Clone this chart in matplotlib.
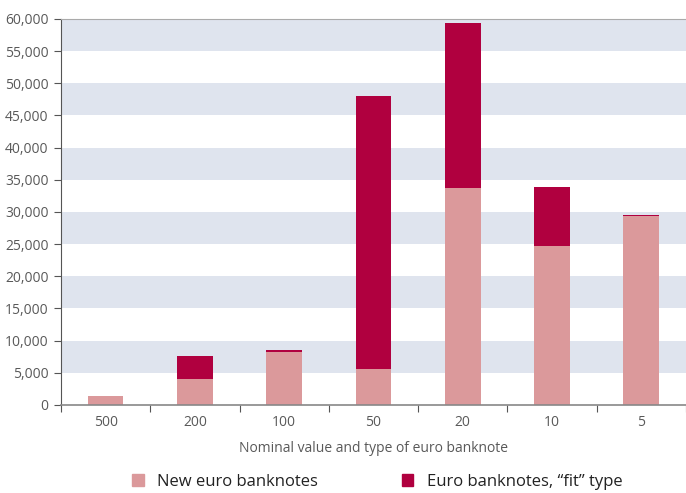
import matplotlib.pyplot as plt
from matplotlib.patches import Patch

plt.rcParams['font.family'] = ['Open Sans', 'DejaVu Sans']

# data
denominations = ['500', '200', '100', '50', '20', '10', '5']
new_notes = [1400, 4000, 8200, 5600, 33700, 24700, 29350]
fit_notes = [0, 3600, 300, 42400, 25700, 9200, 200]
yticks = list(range(0, 60001, 5000))

light = '#db999b'
dark = '#b0003f'
band = '#dfe4ee'
txt = '#595959'

fig = plt.figure(figsize=(6.86, 4.93), dpi=100)
ax = fig.add_axes([0.0889, 0.1785, 0.9111, 0.783])

# alternating horizontal bands
for lo in range(5000, 60000, 10000):
    ax.axhspan(lo, lo + 5000, color=band, lw=0, zorder=0)

x = range(len(denominations))
ax.bar(x, new_notes, width=0.4, color=light, zorder=2)
ax.bar(x, fit_notes, width=0.4, bottom=new_notes, color=dark, zorder=2)

ax.set_xlim(-0.5, len(denominations) - 0.5)
ax.set_ylim(0, 60000)
ax.set_yticks(yticks)
ax.set_yticklabels([f'{v:,}' for v in yticks], color=txt, fontsize=10)

# category labels centred, tick marks at boundaries
ax.set_xticks([i - 0.5 for i in range(len(denominations) + 1)])
ax.set_xticklabels([])
ax.set_xticks(list(x), minor=True)
ax.set_xticklabels(denominations, minor=True, color=txt, fontsize=10)
ax.tick_params(axis='x', which='minor', length=0, pad=7)
ax.tick_params(axis='x', which='major', length=5, color='#555555', direction='out')
ax.tick_params(axis='y', length=5, color='#555555', pad=4)

ax.spines['right'].set_visible(False)
ax.spines['top'].set_color('#aaaaaa')
ax.spines['top'].set_linewidth(0.8)
ax.spines['left'].set_color('#555555')
ax.spines['bottom'].set_color('#888888')
ax.spines['bottom'].set_linewidth(1.2)

ax.set_xlabel('Nominal value and type of euro banknote', color=txt, fontsize=10, labelpad=8)

handles = [Patch(color=light, label='New euro banknotes'),
           Patch(color=dark, label='Euro banknotes, \u201cfit\u201d type')]
fig.legend(handles=handles, loc='lower center', bbox_to_anchor=(0.55, -0.024), ncol=2,
           frameon=False, fontsize=12, handlelength=0.7, handleheight=0.7,
           columnspacing=5, labelcolor='#222222')

fig.savefig('out.png', dpi=100)
